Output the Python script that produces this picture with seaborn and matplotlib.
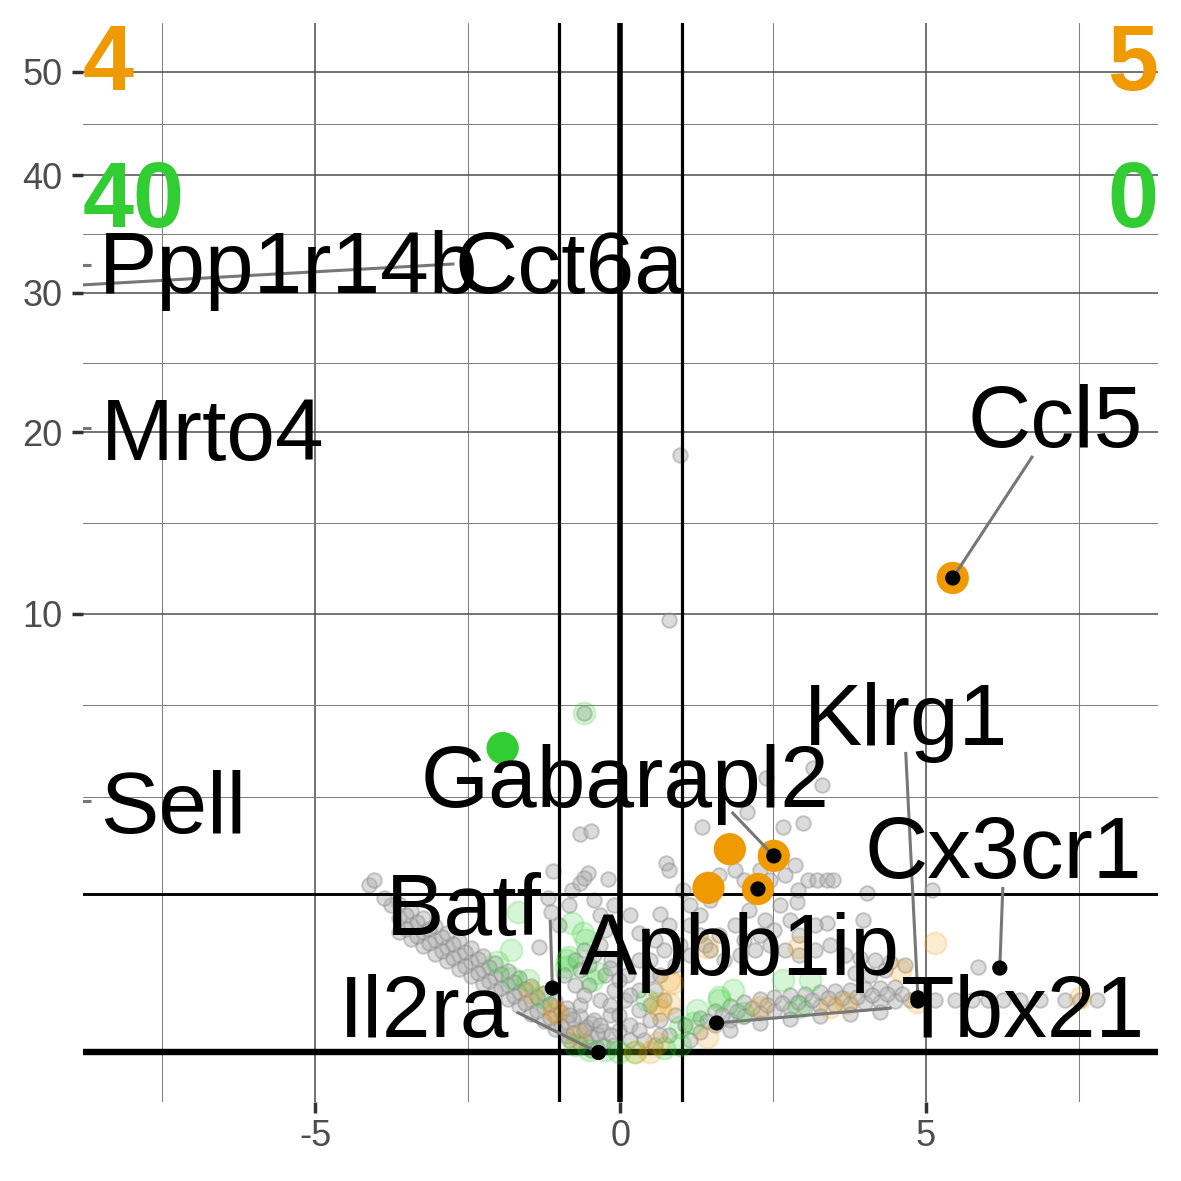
import numpy as np
import pandas as pd
import matplotlib
matplotlib.use("Agg")
import matplotlib.pyplot as plt
import seaborn as sns

# ---- data (logFC, -log10 p) ----
gray_fc = [
    # left arm, centre / upper / lower rows
    -3.62, -3.43, -3.23, -3.03, -2.84, -2.64, -2.44, -2.25, -2.05, -1.85, -1.66, -1.46, -1.26, -1.07, -0.87, -0.67, -0.48, -0.28,
    -3.62, -3.43, -3.23, -3.03, -2.84, -2.64, -2.44, -2.25, -2.05, -1.85, -1.66, -1.46, -1.26, -1.07, -0.87, -0.67, -0.48, -0.28,
    -3.62, -3.43, -3.23, -3.03, -2.84, -2.64, -2.44, -2.25, -2.05, -1.85, -1.66, -1.46, -1.26, -1.07, -0.87, -0.67, -0.48,
    -3.52, -3.33, -3.13, -2.93, -2.74, -2.54, -2.34, -2.15, -1.95, -1.75, -1.56, -1.36, -1.16, -0.97, -0.77, -0.57, -0.38,
    -3.52, -3.33, -3.13, -2.93, -2.74, -2.54, -2.34, -2.15, -1.95, -1.75, -1.56, -1.36, -1.16, -0.97, -0.77, -0.57, -0.38,
    -4.11, -4.03, -3.75, -3.87,
    # middle fill
    -0.75, -0.51, -0.26, -0.10, 0.07, -0.51, -0.34, -0.18, -0.02, 0.15, -0.67, -0.43, -0.15, -0.75, -0.92, -0.59, -0.34,
    -0.15, 0.11, 0.31, 0.48, 0.64, 0.80, 0.39, 0.56, -0.10,
    -0.84, -0.59, -0.34, -0.18, -0.02, 0.15, 0.31, 0.48, 0.31, 0.15, -0.02, -0.18, -0.43, -0.67, -0.59, -0.84,
    0.56, 0.72, 0.89, 1.05, 0.64, 0.48, 0.31,
    -1.11, -0.54, -0.20, -0.79, -0.67, -0.59, -1.18, -1.13, -1.33, -0.66, -0.48, -1.00, -0.84, -0.34, -0.43, -0.26, -0.10, 0.15,
    # scattered high
    0.98, 0.80, -0.59, 2.39, 3.15, 3.30, 2.07, 1.33, 2.66, 2.98, 0.75, 3.07, 3.21, 3.38, 3.48, 4.03, 3.97, 3.38, 5.10, 5.85,
    2.90, 2.89, 0.31, 0.64, 1.02, 0.80,
    # right arm cluster
    1.13, 1.30, 1.46, 1.62, 1.87, 2.03, 2.28, 2.44, 2.69, 2.85, 2.61, 2.36, 2.11, 1.87, 1.62, 1.38, 1.13, 0.89, 0.64,
    2.03, 2.28, 2.52, 2.77, 2.93, 3.18, 1.30, 0.97, 0.72, 0.48, 0.56, 0.80, 1.13, 1.46, 1.70, 1.95, 2.20, 2.44, 2.69,
    2.93, 3.18, 3.43, 3.67, 3.92, 4.16, 4.41, 4.66, 4.33, 4.08, 3.84,
    # flat band to the right
    1.13, 1.30, 1.54, 1.79, 2.03, 2.28, 2.52, 2.77, 3.02, 3.26, 3.51, 3.75, 4.00, 4.25, 4.49, 4.74,
    1.30, 1.54, 1.79, 2.03, 2.28, 2.52, 2.77, 3.02, 3.26, 3.51, 3.75, 4.00, 4.25, 4.49,
    1.42, 1.66, 1.91, 2.16, 2.40, 2.65, 2.90, 3.14, 3.39, 3.63, 3.88, 4.12, 4.37, 4.61,
    1.79, 2.28, 2.77, 3.26, 3.75, 4.25,
    5.15, 5.48, 5.75, 6.02, 6.26, 6.54, 6.87, 7.28, 7.52, 7.80,
]
gray_p = [
    0.941, 0.846, 0.755, 0.658, 0.579, 0.494, 0.426, 0.354, 0.297, 0.237, 0.190, 0.143, 0.108, 0.073, 0.048, 0.026, 0.0125, 0.003,
    1.147, 1.042, 0.941, 0.832, 0.743, 0.646, 0.568, 0.484, 0.417, 0.346, 0.289, 0.230, 0.184, 0.138, 0.103, 0.069, 0.045, 0.024,
    0.755, 0.670, 0.590, 0.505, 0.436, 0.363, 0.305, 0.244, 0.197, 0.149, 0.112, 0.077, 0.052, 0.029, 0.014, 0.004, 0.0003,
    0.984, 0.886, 0.794, 0.694, 0.613, 0.525, 0.455, 0.380, 0.321, 0.258, 0.210, 0.160, 0.122, 0.085, 0.058, 0.034, 0.018,
    0.794, 0.706, 0.624, 0.536, 0.465, 0.389, 0.329, 0.266, 0.216, 0.166, 0.127, 0.090, 0.062, 0.037, 0.020, 0.007, 0.001,
    1.46, 1.55, 1.13, 1.24,
    0.445, 0.398, 0.312, 0.203, 0.143, 0.237, 0.143, 0.073, 0.026, 0.008, 0.117, 0.055, 0.016, 0.237, 0.312, 0.546, 0.601,
    0.445, 0.312, 0.203, 0.117, 0.055, 0.016, 0.008, 0.003, 0.003,
    0.008, 0.026, 0.039, 0.117, 0.073, 0.039, 0.026, 0.055, 0.094, 0.172, 0.273, 0.371, 0.494, 0.354, 0.172, 0.073,
    0.203, 0.143, 0.073, 0.039, 0.016, 0.312, 0.445,
    1.713, 1.677, 1.566, 1.374, 1.495, 1.585, 1.241, 1.027, 0.579, 2.483, 2.553, 0.846, 1.132, 0.984, 1.210, 0.781, 1.132, 0.984,
    18.57, 9.73, 6.00, 3.92, 4.21, 3.72, 3.01, 2.64, 2.64, 2.74, 1.87, 1.548, 1.548, 1.548, 1.548, 1.323, 0.913, 0.872, 1.374, 0.380,
    1.374, 1.18, 0.743, 1.0, 1.374, 1.732,
    1.132, 0.984, 1.210, 1.639, 1.732, 1.548, 1.732, 1.548, 1.639, 1.829, 1.132, 0.913, 1.057, 0.846, 0.718, 0.601, 0.494, 0.398, 0.312,
    0.658, 0.718, 0.781, 0.913, 0.718, 0.846, 0.718, 0.601, 0.546, 0.445, 0.658, 0.846, 0.846, 0.546, 0.445, 0.494, 0.546, 0.601, 0.546,
    0.494, 0.546, 0.601, 0.494, 0.46, 0.445, 0.43, 0.398, 0.354, 0.312, 0.33,
    0.008, 0.022, 0.039, 0.055, 0.069, 0.081, 0.090, 0.098, 0.103, 0.112, 0.117, 0.122, 0.127, 0.133, 0.138, 0.143,
    0.062, 0.090, 0.112, 0.133, 0.149, 0.160, 0.172, 0.178, 0.190, 0.197, 0.203, 0.210, 0.216, 0.223,
    0.052, 0.073, 0.090, 0.105, 0.117, 0.127, 0.135, 0.143, 0.152, 0.157, 0.163, 0.169, 0.175, 0.181,
    0.026, 0.045, 0.058, 0.069, 0.077, 0.085,
    0.143, 0.143, 0.143, 0.143, 0.143, 0.143, 0.143, 0.143, 0.143, 0.143,
]

green_fc = [-1.67, -1.80, -2.03, -1.77, -1.52, -1.28, -0.79, -0.84, -0.89, -0.46, -0.56, -0.62, -0.87, -0.39,
            0.43, 0.97, 1.18, 1.25, 1.62, 1.84, 2.00, 2.66, 3.10, 1.62, 2.93,
            -0.51, -0.26, -0.02, 0.23, 0.72, 0.97, -0.75, -0.59]
green_p = [1.027, 0.546, 0.426, 0.289, 0.273, 0.160, 0.872, 0.474, 0.380, 0.273, 0.658, 0.743, 0.445, 0.329,
           0.143, 0.034, 0.045, 0.094, 0.160, 0.203, 0.081, 0.273, 0.273, 0.143, 0.108,
           0.0003, 0.0003, 0.0, 0.0, 0.001, 0.003, 0.003, 6.00]

orange_fc = [-1.05, -1.46, -0.72, -1.11, 0.59, 0.85, 0.80, 1.41, 1.41, 0.59, 2.28, 3.43, 3.70, 4.85, 5.15,
             2.93, 0.80, 4.57, 0.64, 7.52, 0.23, 0.48]
orange_p = [0.081, 0.190, 0.0125, 0.094, 0.127, 0.251, 0.127, 0.579, 0.0125, 0.005, 0.108, 0.108, 0.127, 0.133, 0.624,
            0.579, 0.273, 0.354, 0.094, 0.155, 0.0, 0.0]

sig_up_fc = [1.79, 1.44, 2.51, 2.25, 5.44]
sig_up_p = [2.15, 1.41, 2.01, 1.39, 11.71]
sig_down_fc = [-1.93]
sig_down_p = [4.82]

genes = ["Ccl5", "Klrg1", "Gabarapl2", "Cx3cr1", "Batf", "Apbb1ip", "Il2ra", "Tbx21",
         "Ppp1r14b", "Mrto4", "Sell", "Cct6a", None]
gene_fc = [5.44, 4.87, 2.51, 6.21, -1.115, 1.574, -0.36, 4.87, -10, -10, -10, -12, 2.25]
gene_p = [11.71, 0.155, 2.01, 0.371, 0.216, 0.0453, 0.0, 0.138, 32.26, 20.29, 3.29, 29.77, 1.39]
label_x = [7.11, 4.67, 0.07, 6.26, -2.56, 1.95, -3.21, 6.59, -5.43, -6.67, -7.32, -0.85]
label_y = [19.07, 4.92, 3.14, 1.585, 0.718, 0.312, 0.0125, 0.0125, 30.0, 18.26, 2.51, 30.0]
seg_x = [6.75, 4.67, 1.82, 6.26, -1.15, 4.44, -1.70, None, -8.67, -8.67, -8.67, -2.72]
seg_y = [18.51, 4.70, 3.01, 1.425, 0.913, 0.103, 0.085, None, 32.26, 20.29, 3.29, 32.34]

quad_counts = ["4", "40", "5", "0"]
quad_side = ["left", "left", "right", "right"]
quad_top = [1.0, 0.873, 1.0, 0.873]

ORANGE = "#EE9A00"
GREEN = "#32CD32"

sns.set_theme(style="white")
plt.rcParams['font.family'] = ['Liberation Sans', 'DejaVu Sans']
plt.rcParams['axes.unicode_minus'] = False


def fwd(v):
    v = np.asarray(v, dtype=float)
    return np.sign(v) * np.sqrt(np.abs(v))


def inv(v):
    v = np.asarray(v, dtype=float)
    return np.sign(v) * v ** 2


fig = plt.figure(figsize=(11.81, 11.81), dpi=100)
ax = fig.add_axes([0.0703, 0.0669, 0.9102, 0.9137])
ax.set_yscale('function', functions=(fwd, inv))

gray_df = pd.DataFrame({"logFC": gray_fc, "p": gray_p})
sns.scatterplot(data=gray_df, x="logFC", y="p", ax=ax, s=110, color="#b0b0b0",
                edgecolor="#8c8c8c", linewidth=1.4, alpha=0.45, zorder=2, legend=False)

# reference lines
ax.axvline(0, color="black", lw=4.0, zorder=3)
ax.axvline(-1, color="black", lw=2.3, zorder=3)
ax.axvline(1, color="black", lw=2.3, zorder=3)
ax.axhline(0, color="black", lw=4.6, zorder=3)
ax.axhline(1.3, color="black", lw=2.1, zorder=3)

sns.scatterplot(x=green_fc, y=green_p, ax=ax, s=250, color=GREEN, alpha=0.2,
                edgecolor=GREEN, linewidth=1.5, zorder=4, legend=False)
sns.scatterplot(x=orange_fc, y=orange_p, ax=ax, s=250, color=ORANGE, alpha=0.18,
                edgecolor=ORANGE, linewidth=1.5, zorder=4, legend=False)
sns.scatterplot(x=sig_up_fc, y=sig_up_p, ax=ax, s=540, color=ORANGE, edgecolor="none",
                linewidth=0, zorder=5, legend=False)
sns.scatterplot(x=sig_down_fc, y=sig_down_p, ax=ax, s=540, color=GREEN, edgecolor="none",
                linewidth=0, zorder=5, legend=False)

# label segments
for i, g in enumerate(genes):
    if g is None or seg_x[i] is None:
        continue
    ax.plot([seg_x[i], gene_fc[i]], [seg_y[i], gene_p[i]], color="#777777", lw=2.2,
            solid_capstyle="butt", zorder=6)

ax.scatter(gene_fc, gene_p, s=120, color="black", edgecolor="none", zorder=7)

for i, g in enumerate(genes):
    if g is None:
        continue
    ax.text(label_x[i], label_y[i], g, ha="center", va="baseline", fontsize=63,
            color="black", zorder=8)

for lab, side, top in zip(quad_counts, quad_side, quad_top):
    col = ORANGE if top == 1.0 else GREEN
    ax.text(0.0 if side == "left" else 1.0, top, lab, transform=ax.transAxes,
            ha=side, va="top", fontsize=66, fontweight="bold", color=col, zorder=8)

ax.set_xlim(-8.8, 8.8)
ax.set_ylim(-0.1274, 55.13)
ax.set_xticks([-5, 0, 5])
ax.set_xticklabels(["-5", "0", "5"])
ax.set_xticks([-7.5, -2.5, 2.5, 7.5], minor=True)
ax.set_yticks([10, 20, 30, 40, 50])
ax.set_yticklabels(["10", "20", "30", "40", "50"])
ax.set_yticks([3.40, 6.28, 14.57, 24.75, 34.82, 44.86], minor=True)

ax.grid(which="major", color="#4d4d4d", lw=1.1)
ax.grid(which="minor", color="#808080", lw=0.75)
ax.set_axisbelow(True)
for sp in ax.spines.values():
    sp.set_visible(False)

ax.tick_params(axis="both", which="major", length=8, width=2.5, color="#333333",
               labelsize=26, labelcolor="#4d4d4d", left=True, bottom=True)
ax.tick_params(axis="y", which="major", pad=7)
ax.tick_params(axis="x", which="major", pad=4)
ax.tick_params(which="minor", length=0)
ax.set_xlabel("")
ax.set_ylabel("")

fig.savefig("out.png", dpi=100)
